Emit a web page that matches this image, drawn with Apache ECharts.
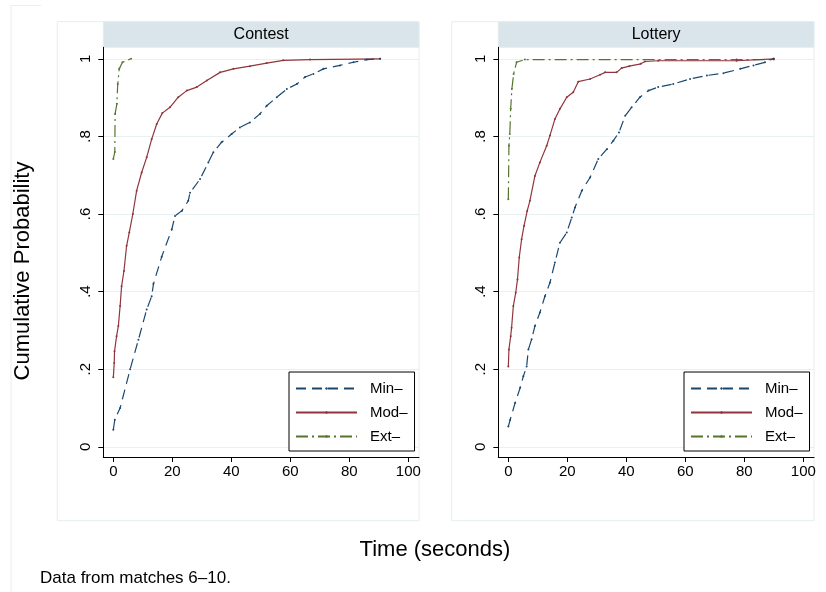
<!DOCTYPE html>
<html>
<head>
<meta charset="utf-8">
<script src="https://cdn.jsdelivr.net/npm/echarts@6.0.0/dist/echarts.min.js"></script>
<style>
html,body{margin:0;padding:0;background:#fff;}
#chart{width:826px;height:592px;}
</style>
</head>
<body>
<div id="chart"></div>
<script>
// ---- Data ----
var panels = ["Contest", "Lottery"];
var seriesNames = ["Min\u2013", "Mod\u2013", "Ext\u2013"];
var xTicks = [0, 20, 40, 60, 80, 100];
var yTicks = [0, 0.2, 0.4, 0.6, 0.8, 1];
var yTickLabels = ["0", ".2", ".4", ".6", ".8", "1"];

// Contest
var contestMinX = [0, 0.5, 2.3, 5.7, 8.5, 11.3, 13, 13.6, 16.4, 19.8, 20.9, 23.2, 25.4, 26, 29.4, 32.2, 33.9, 36.7, 40.1, 42.9, 46.3, 49.7, 52, 55.4, 58.8, 62.2, 65, 67.8, 71.2, 76.8, 81.4, 85.9, 90.4];
var contestMinY = [0.044, 0.07, 0.1, 0.2, 0.276, 0.354, 0.388, 0.42, 0.49, 0.56, 0.595, 0.608, 0.634, 0.655, 0.69, 0.733, 0.759, 0.785, 0.806, 0.823, 0.836, 0.858, 0.879, 0.901, 0.922, 0.935, 0.953, 0.961, 0.974, 0.983, 0.991, 0.998, 1.0];
var contestModX = [0, 0.3, 0.4, 1.1, 1.7, 2.3, 2.8, 3.6, 4.5, 5.4, 6.6, 7.9, 9.6, 11.3, 13, 14.7, 16.6, 19.2, 22, 24.9, 28.3, 31.7, 36.2, 40.7, 46.3, 52, 57.6, 66.7, 90.4];
var contestModY = [0.179, 0.216, 0.246, 0.285, 0.311, 0.363, 0.414, 0.453, 0.518, 0.552, 0.6, 0.66, 0.707, 0.746, 0.793, 0.832, 0.86, 0.875, 0.901, 0.918, 0.927, 0.944, 0.965, 0.974, 0.981, 0.989, 0.996, 0.998, 1.0];
var contestExtX = [0, 0.5, 0.6, 1.2, 1.5, 2, 3.1, 6];
var contestExtY = [0.742, 0.76, 0.858, 0.884, 0.935, 0.974, 0.991, 1.0];

// Lottery
var lotteryMinX = [0, 0.6, 2.3, 4, 5.1, 6.2, 6.8, 7.9, 9, 10.7, 12.4, 14.1, 15.8, 17.5, 19.8, 21.5, 22.6, 24.9, 27.7, 30.5, 33.4, 35.6, 37.5, 39.6, 41.8, 44.6, 47.5, 50.8, 55.9, 61.6, 67.3, 72.9, 78.6, 83.1, 87, 89.8];
var lotteryMinY = [0.052, 0.069, 0.113, 0.152, 0.182, 0.207, 0.251, 0.277, 0.311, 0.346, 0.388, 0.423, 0.475, 0.526, 0.552, 0.591, 0.617, 0.66, 0.694, 0.742, 0.767, 0.789, 0.81, 0.853, 0.875, 0.901, 0.918, 0.927, 0.935, 0.948, 0.957, 0.963, 0.974, 0.983, 0.991, 1.0];
var lotteryModX = [0, 0.2, 0.8, 1.1, 1.7, 2.5, 3.1, 3.7, 4.5, 5.3, 6.4, 7.3, 9, 10.7, 13, 14.1, 15.8, 17.5, 19.8, 22, 23.7, 27.7, 31.1, 32.8, 36.7, 38.4, 41, 44.9, 46.3, 50.8, 77.4, 77.4, 90];
var lotteryModY = [0.207, 0.251, 0.285, 0.307, 0.363, 0.397, 0.431, 0.488, 0.535, 0.569, 0.608, 0.634, 0.698, 0.733, 0.776, 0.802, 0.845, 0.871, 0.901, 0.914, 0.941, 0.948, 0.959, 0.965, 0.965, 0.976, 0.981, 0.987, 0.993, 0.995, 0.995, 0.998, 1.0];
var lotteryExtX = [0, 0.2, 0.5, 0.8, 1.2, 1.8, 2.8, 5.6, 90, 90];
var lotteryExtY = [0.638, 0.776, 0.806, 0.871, 0.922, 0.961, 0.991, 0.998, 0.998, 1.0];

// ---- Build ----
var FONT = "'Liberation Sans', Arial, Helvetica, sans-serif";
var colors = ["#1a476f", "#90353b", "#55752f"];
var dashes = [[10, 6], "solid", [12, 4, 2, 4]];
var panelData = [
  [[contestMinX, contestMinY], [contestModX, contestModY], [contestExtX, contestExtY]],
  [[lotteryMinX, lotteryMinY], [lotteryModX, lotteryModY], [lotteryExtX, lotteryExtY]]
];
function zip(xs, ys) { return xs.map(function (x, i) { return [x, ys[i]]; }); }

var gridLefts = [103.3, 498.3];
var gridTop = 47.3, gridW = 315.7, gridH = 409.7;
var xMin = -3.4, xMax = 103.6, yMin = -0.0263, yMax = 1.0296;

var grids = [], xAxes = [], yAxes = [], series = [], legends = [], graphics = [];

// outer faint frame
graphics.push({type: 'line', shape: {x1: 11, y1: 5.5, x2: 11, y2: 592}, style: {stroke: '#e6eef0', lineWidth: 1}, silent: true});
graphics.push({type: 'line', shape: {x1: 11, y1: 5.5, x2: 41, y2: 5.5}, style: {stroke: '#e6eef0', lineWidth: 1}, silent: true});

var boxLefts = [57.3, 451.7];
panels.forEach(function (p, i) {
  grids.push({left: gridLefts[i], top: gridTop, width: gridW, height: gridH, containLabel: false});
  xAxes.push({
    type: 'value', gridIndex: i, min: xMin, max: xMax,
    axisLine: {show: true, onZero: false, lineStyle: {color: '#000', width: 1}},
    axisTick: {show: true, length: 5, customValues: xTicks, lineStyle: {color: '#000'}},
    axisLabel: {show: true, customValues: xTicks, margin: 7, color: '#000', fontSize: 15, fontFamily: FONT},
    splitLine: {show: false}
  });
  yAxes.push({
    type: 'value', gridIndex: i, min: yMin, max: yMax,
    axisLine: {show: true, onZero: false, lineStyle: {color: '#000', width: 1}},
    axisTick: {show: true, length: 5, customValues: yTicks, lineStyle: {color: '#000'}},
    axisLabel: {show: true, customValues: yTicks, rotate: 90, margin: 10, color: '#000', fontSize: 15, fontFamily: FONT,
      formatter: function (v) { var k = yTicks.indexOf(Math.round(v * 10) / 10); return k >= 0 ? yTickLabels[k] : ''; }},
    splitLine: {show: true, lineStyle: {color: '#e8f0f2', width: 1}}
  });
  panelData[i].forEach(function (d, s) {
    series.push({
      name: seriesNames[s], type: 'line', xAxisIndex: i, yAxisIndex: i,
      data: zip(d[0], d[1]),
      showSymbol: true, symbol: 'circle', symbolSize: 2,
      itemStyle: {color: colors[s]},
      lineStyle: {color: colors[s], width: 1.2, type: dashes[s]},
      emphasis: {disabled: true}, silent: true, animation: false, z: 3 - s
    });
  });
  legends.push({
    show: true, orient: 'vertical', left: gridLefts[i] + 185.7, top: 372,
    data: seriesNames, itemWidth: 61, itemHeight: 3, itemGap: 9,
    padding: [9, 7, 7, 6], borderColor: '#000', borderWidth: 1, backgroundColor: '#fff',
    textStyle: {fontSize: 15, fontFamily: FONT, color: '#000', padding: [0, 0, 0, 8]},
    selectedMode: false
  });
  // panel box
  graphics.push({type: 'rect', shape: {x: boxLefts[i], y: 21.7, width: gridLefts[i] + gridW - boxLefts[i], height: 499}, style: {fill: 'none', stroke: '#e6eef0', lineWidth: 1}, silent: true, z: -1});
  // header strip
  graphics.push({type: 'rect', shape: {x: gridLefts[i], y: 21.7, width: gridW, height: 25.6}, style: {fill: '#d9e5ea', stroke: '#e3ecef', lineWidth: 1}, silent: true});
  graphics.push({type: 'text', x: gridLefts[i] + gridW / 2, y: 34.5, style: {text: p, font: '16px ' + FONT, fill: '#000', textAlign: 'center', textVerticalAlign: 'middle'}, silent: true});
});

graphics.push({type: 'text', x: 23, y: 271, rotation: Math.PI / 2, style: {text: 'Cumulative Probability', font: '22px ' + FONT, fill: '#000', textAlign: 'center', textVerticalAlign: 'middle'}, silent: true});
graphics.push({type: 'text', x: 435, y: 550, style: {text: 'Time (seconds)', font: '22px ' + FONT, fill: '#000', textAlign: 'center', textVerticalAlign: 'middle'}, silent: true});
graphics.push({type: 'text', x: 40, y: 578, style: {text: 'Data from matches 6\u201310.', font: '17px ' + FONT, fill: '#000', textAlign: 'left', textVerticalAlign: 'middle'}, silent: true});

var chart = echarts.init(document.getElementById('chart'), null, {renderer: 'canvas'});
chart.setOption({
  animation: false,
  backgroundColor: '#fff',
  grid: grids, xAxis: xAxes, yAxis: yAxes, series: series, legend: legends,
  graphic: graphics
});
</script>
</body>
</html>
